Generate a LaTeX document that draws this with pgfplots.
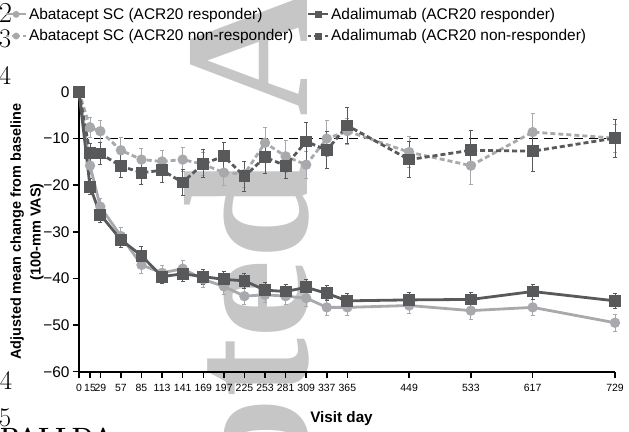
\documentclass[border=0pt]{standalone}
\usepackage{fontspec}
\usepackage{pgfplots}
\pgfplotsset{compat=1.18}
\newfontfamily\arial{Liberation Sans}
\newfontfamily\wmfont{Liberation Serif}
\definecolor{dk}{HTML}{58595B}
\definecolor{lt}{HTML}{A7A9AC}
\definecolor{wm}{HTML}{C6C6C6}

\pgfplotstableread{
x y e
0 0 0
15 -7.6 2.2
29 -8.4 2.4
57 -12.5 2.7
85 -14.5 2.3
113 -14.9 2.3
141 -14.5 2.5
169 -15.5 2.5
197 -17.3 2.8
225 -17.6 2.8
253 -10.9 3.2
281 -13.8 3.4
309 -15.6 2.9
337 -10.0 3.8
365 -8.4 2.8
449 -12.9 3.3
533 -15.8 4.0
617 -8.6 4.0
729 -9.9 3.0
}\abatNR

\pgfplotstableread{
x y e
0 0 0
15 -13.1 2.1
29 -13.2 2.3
57 -15.9 2.5
85 -17.3 2.5
113 -16.8 2.5
141 -19.4 2.7
169 -15.4 3.0
197 -13.8 3.0
225 -18.1 3.2
253 -14.0 3.5
281 -15.8 2.8
309 -10.6 4.1
337 -12.5 4.0
365 -7.2 3.9
449 -14.5 3.8
533 -12.5 4.2
617 -12.7 4.3
729 -9.9 4.1
}\adaNR

\pgfplotstableread{
x y e
0 0 0
15 -15.8 1.8
29 -24.6 1.8
57 -30.9 1.8
85 -37.1 1.8
113 -38.8 1.6
141 -37.9 1.7
169 -40.2 1.7
197 -41.7 1.7
225 -43.8 1.7
253 -43.5 1.7
281 -43.8 1.7
309 -44.2 1.7
337 -46.2 1.7
365 -46.2 1.7
449 -45.8 1.8
533 -46.9 1.8
617 -46.2 1.8
729 -49.5 1.8
}\abatR

\pgfplotstableread{
x y e
0 0 0
15 -20.3 1.7
29 -26.3 1.7
57 -31.7 1.6
85 -35.1 1.9
113 -39.6 1.5
141 -39.0 1.6
169 -39.6 1.6
197 -40.2 1.6
225 -40.5 1.6
253 -42.5 1.6
281 -42.8 1.6
309 -41.9 1.6
337 -43.2 1.6
365 -44.8 1.6
449 -44.6 1.6
533 -44.5 1.6
617 -42.8 1.6
729 -44.8 1.6
}\adaR

\begin{document}
\begin{tikzpicture}
\useasboundingbox (0,0) rectangle (629bp,432bp);
% watermark
\node[rotate=90, anchor=base east, inner sep=0, text=wm, font=\wmfont\bfseries\fontsize{178}{178}\selectfont] at (307bp,271bp) {Accepted};
\node[rotate=90, anchor=base west, inner sep=0, text=wm, font=\wmfont\bfseries\fontsize{178}{178}\selectfont] at (307bp,315.5bp) {Article};
% stray page text
\node[font=\fontsize{29}{29}\selectfont, inner sep=0] at (5.5bp,419bp) {2};
\node[font=\fontsize{27}{27}\selectfont, inner sep=0] at (5bp,393.5bp) {3};
\node[font=\fontsize{27}{27}\selectfont, inner sep=0] at (5bp,356bp) {4};
\node[font=\fontsize{27}{27}\selectfont, inner sep=0] at (6bp,51bp) {4};
\node[font=\fontsize{27}{27}\selectfont, inner sep=0] at (5bp,14bp) {5};
\node[font=\bfseries\fontsize{25}{25}\selectfont, inner sep=0, anchor=north west] at (0bp,4bp) {PALLDA};
% y axis title
\node[rotate=90, align=center, font=\arial\bfseries\fontsize{14.5}{20}\selectfont] at (27bp,200.2bp)
  {Adjusted mean change from baseline\\(100-mm VAS)};
\begin{axis}[
  at={(79bp,60.3bp)}, anchor=south west,
  width=536bp, height=279.7bp, scale only axis,
  xmin=0, xmax=729, ymin=-60, ymax=0,
  clip=false,
  axis x line*=bottom, axis y line*=left,
  axis line style={line width=1.6bp, black},
  tick style={line width=1.5bp, black},
  tick align=outside, major tick length=6bp,
  xtick={0,15,29,57,85,113,141,169,197,225,253,281,309,337,365,449,533,617,729},
  xticklabels={0,15,29,57,85,113,141,169,197,225,253,281,309,337,365,449,533,617,729},
  ytick={-60,-50,-40,-30,-20,-10,0},
  yticklabels={−60,−50,−40,−30,−20,−10,0},
  x tick label style={font=\arial\fontsize{10.5}{12}\selectfont, inner sep=1bp, yshift=-5bp},
  y tick label style={font=\arial\fontsize{15.5}{17}\selectfont},
  legend columns=2,
  legend cell align=left,
  legend style={at={(-0.138,1.308)}, anchor=north west, draw=none, fill=none,
    font=\arial\fontsize{15.5}{18}\selectfont, inner sep=0pt, row sep=5bp,
    /tikz/every even column/.append style={column sep=12bp}},
  legend image code/.code={\draw[mark repeat=2,mark phase=2] plot coordinates {(0bp,0bp)(10bp,0bp)(20bp,0bp)};},
]
\addlegendimage{lt, line width=1.8bp, mark=*, mark size=2.5bp, mark options={solid}}
\addlegendentry{Abatacept SC (ACR20 responder)}
\addlegendimage{dk, line width=1.8bp, mark=square*, mark size=2.6bp, mark options={solid}}
\addlegendentry{Adalimumab (ACR20 responder)}
\addlegendimage{lt, line width=1.8bp, dash pattern=on 3bp off 2.5bp, mark=*, mark size=2.5bp, mark options={solid}}
\addlegendentry{Abatacept SC (ACR20 non-responder)}
\addlegendimage{dk, line width=1.8bp, dash pattern=on 3bp off 2.5bp, mark=square*, mark size=2.6bp, mark options={solid}}
\addlegendentry{Adalimumab (ACR20 non-responder)}

\addplot[black, line width=1.2bp, dash pattern=on 9bp off 6bp, forget plot] coordinates {(0,-10) (729,-10)};

\addplot[lt, line width=2.8bp, dash pattern=on 5bp off 3bp, mark=*, mark size=3.7bp,
  mark options={solid, fill=lt, draw=lt}, forget plot,
  error bars/.cd, y dir=both, y explicit,
  error bar style={line width=0.9bp, solid, lt},
  error mark options={rotate=90, mark size=2bp, line width=0.9bp, lt}]
  table[x=x, y=y, y error=e] {\abatNR};
\addplot[lt, line width=2.8bp, mark=*, mark size=3.7bp,
  mark options={solid, fill=lt, draw=lt}, forget plot,
  error bars/.cd, y dir=both, y explicit,
  error bar style={line width=0.9bp, solid, lt},
  error mark options={rotate=90, mark size=2bp, line width=0.9bp, lt}]
  table[x=x, y=y, y error=e] {\abatR};
\addplot[dk, line width=2.8bp, dash pattern=on 5bp off 3bp, mark=square*, mark size=4.5bp,
  mark options={solid, fill=dk, draw=dk}, forget plot,
  error bars/.cd, y dir=both, y explicit,
  error bar style={line width=0.9bp, solid, dk},
  error mark options={rotate=90, mark size=2bp, line width=0.9bp, dk}]
  table[x=x, y=y, y error=e] {\adaNR};
\addplot[dk, line width=2.8bp, mark=square*, mark size=4.5bp,
  mark options={solid, fill=dk, draw=dk}, forget plot,
  error bars/.cd, y dir=both, y explicit,
  error bar style={line width=0.9bp, solid, dk},
  error mark options={rotate=90, mark size=2bp, line width=0.9bp, dk}]
  table[x=x, y=y, y error=e] {\adaR};
\end{axis}
\node[font=\arial\bfseries\fontsize{15.3}{18}\selectfont] at (341.5bp,13.3bp) {Visit day};
\end{tikzpicture}
\end{document}
